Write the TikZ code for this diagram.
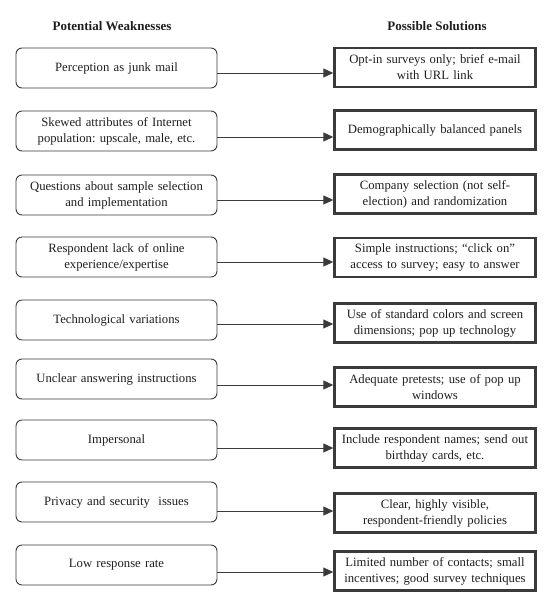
\documentclass[tikz,border=0pt]{standalone}
\usepackage{fontspec}
\setmainfont{Liberation Serif}
\usetikzlibrary{arrows.meta}
\frenchspacing
\definecolor{lineclr}{HTML}{3A3A3A}
\definecolor{txtclr}{HTML}{1E1E1E}
\tikzset{
  weak/.style={draw=lineclr, line width=0.9pt, rounded corners=6pt, minimum width=201pt, minimum height=40pt, text width=194pt, align=center, inner sep=0pt, font=\fontsize{12.7}{16}\selectfont, text=txtclr},
  sol/.style={draw=lineclr, line width=2.4pt, minimum width=201pt, minimum height=39pt, text width=198pt, align=center, inner sep=0pt, font=\fontsize{12.7}{16}\selectfont, text=txtclr},
  head/.style={font=\fontsize{13}{15}\selectfont\bfseries, inner sep=0pt, text=txtclr},
  arr/.style={draw=lineclr, line width=0.9pt, -{Triangle[length=10pt,width=9pt]}}
}
\begin{document}
\begin{tikzpicture}[x=1pt,y=-1pt]
\useasboundingbox (0,0) rectangle (551,604);
\node[head] (h1) at (112,26) {Potential Weaknesses};
\node[head] (h2) at (437,26) {Possible Solutions};

\node[weak] (L1) at (116.5,68) {Perception as junk mail};
\node[weak] (L2) at (116.5,131) {Skewed attributes of Internet\\population: upscale, male, etc.};
\node[weak] (L3) at (116.5,195) {Questions about sample selection\\and implementation};
\node[weak] (L4) at (116.5,257) {Respondent lack of online\\experience/expertise};
\node[weak] (L5) at (116.5,320) {Technological variations};
\node[weak] (L6) at (116.5,379) {Unclear answering instructions};
\node[weak] (L7) at (116.5,440) {Impersonal};
\node[weak] (L8) at (116.5,502) {Privacy and security\ \ issues};
\node[weak] (L9) at (116.5,565) {Low response rate};

\node[sol] (R1) at (435,67.5) {Opt-in surveys only; brief e-mail\\with URL link};
\node[sol] (R2) at (435,130) {Demographically balanced panels};
\node[sol] (R3) at (435,194) {Company selection (not self-\\election) and randomization};
\node[sol] (R4) at (435,257.5) {Simple instructions; “click on”\\access to survey; easy to answer};
\node[sol] (R5) at (435,323) {Use of standard colors and screen\\dimensions; pop up technology};
\node[sol] (R6) at (435,387) {Adequate pretests; use of pop up\\windows};
\node[sol] (R7) at (435,448) {Include respondent names; send out\\birthday cards, etc.};
\node[sol] (R8) at (435,513) {Clear, highly visible,\\respondent-friendly policies};
\node[sol] (R9) at (435,571) {Limited number of contacts; small\\incentives; good survey techniques};

\draw[arr] ([yshift=-5pt]L1.east) -- ([yshift=-5pt]L1.east -| R1.west);
\draw[arr] ([yshift=-6pt]L2.east) -- ([yshift=-6pt]L2.east -| R2.west);
\draw[arr] ([yshift=-5pt]L3.east) -- ([yshift=-5pt]L3.east -| R3.west);
\draw[arr] ([yshift=-5pt]L4.east) -- ([yshift=-5pt]L4.east -| R4.west);
\draw[arr] ([yshift=-4pt]L5.east) -- ([yshift=-4pt]L5.east -| R5.west);
\draw[arr] ([yshift=-6pt]L6.east) -- ([yshift=-6pt]L6.east -| R6.west);
\draw[arr] ([yshift=-8pt]L7.east) -- ([yshift=-8pt]L7.east -| R7.west);
\draw[arr] ([yshift=-9pt]L8.east) -- ([yshift=-9pt]L8.east -| R8.west);
\draw[arr] ([yshift=-7pt]L9.east) -- ([yshift=-7pt]L9.east -| R9.west);
\end{tikzpicture}
\end{document}
